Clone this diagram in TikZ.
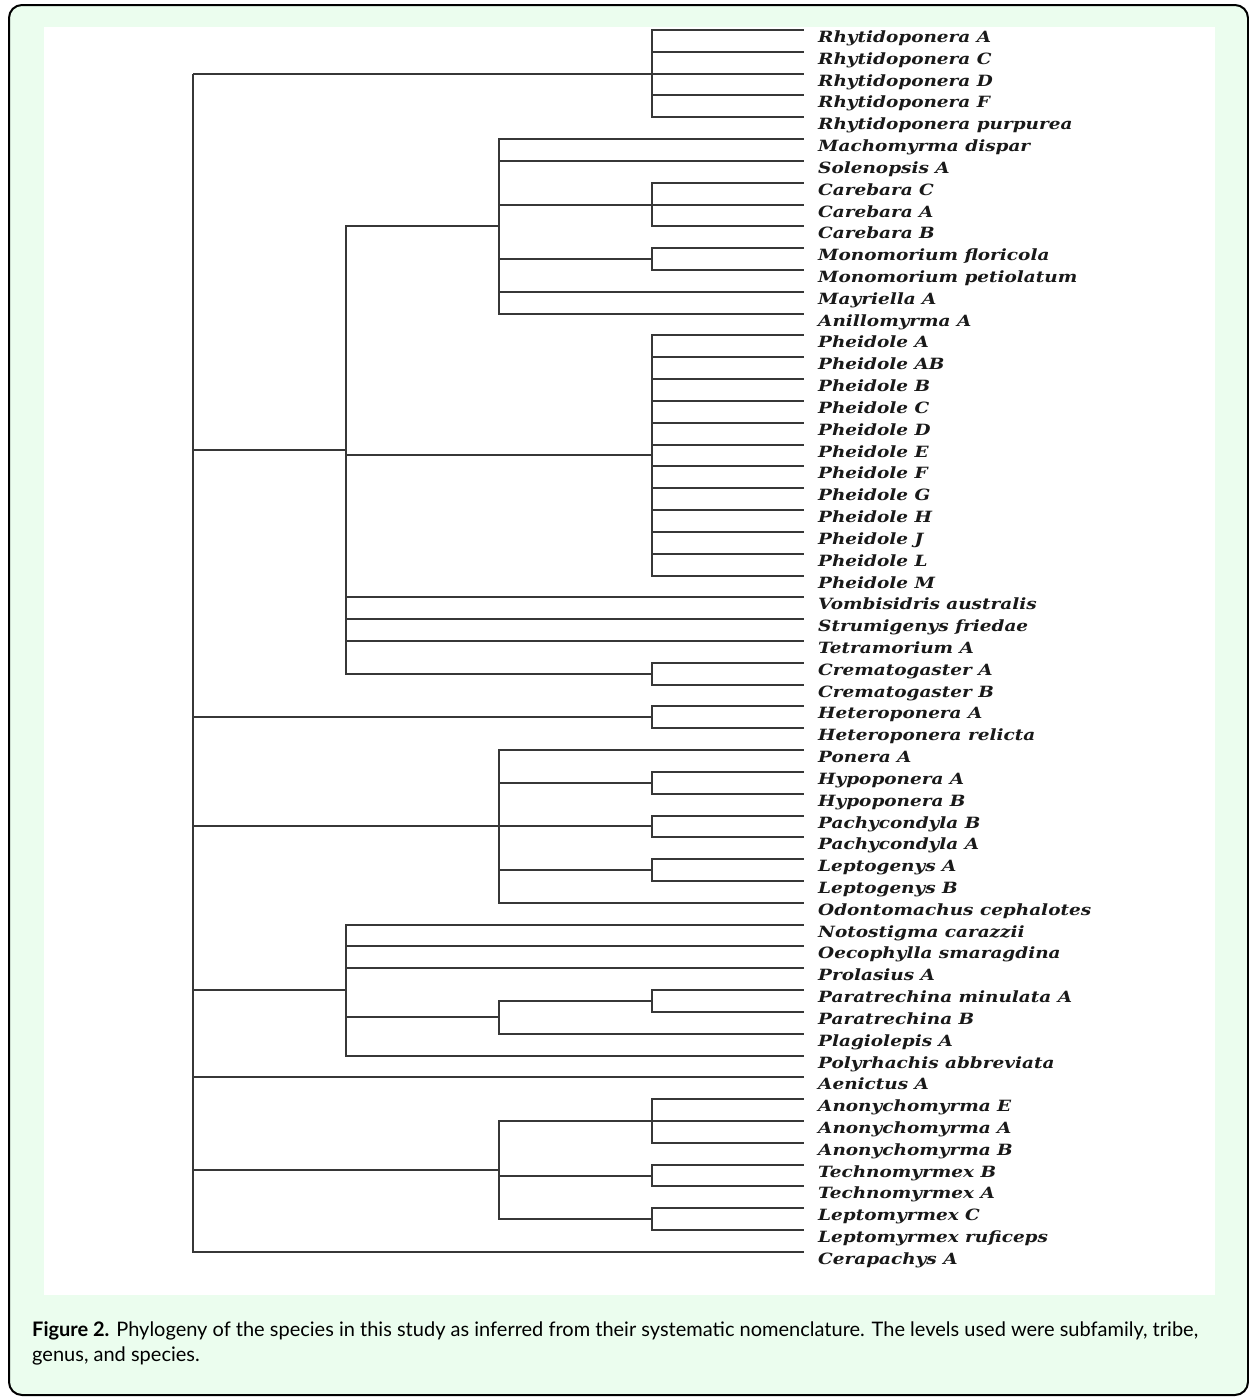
\documentclass[tikz,border=0pt]{standalone}
\usepackage{fontspec}
\usepackage{graphicx}
\newfontfamily\capfont{Lato}
\newfontfamily\labfont[FakeStretch=1.19]{DejaVu Serif}
\definecolor{bgreen}{RGB}{235,253,238}
\definecolor{branchgray}{RGB}{55,55,55}
\newcommand{\Yv}[1]{30+(#1-1)*21.82}
\newcommand{\lab}[1]{\labfont\fontsize{15.5}{15.5}\selectfont\bfseries\itshape #1}
\begin{document}
\begin{tikzpicture}[x=1pt,y=-1pt,
  branch/.style={line width=2pt, draw=branchgray},
  leaf/.style={anchor=base west, inner sep=0pt, text=black!90},
  capt/.style={anchor=base west, inner sep=0pt, text=black, font=\capfont\fontsize{20}{24}\selectfont}]
\useasboundingbox (0,0) rectangle (1249,1398);
\draw[line width=2pt, fill=bgreen, rounded corners=13pt] (9,5) rectangle (1248,1395);
\fill[white] (44,27) rectangle (1215,1295);
% leaves
\foreach \nm [count=\i] in {Rhytidoponera A, Rhytidoponera C, Rhytidoponera D, Rhytidoponera F, Rhytidoponera purpurea, Machomyrma dispar, Solenopsis A, Carebara C, Carebara A, Carebara B, Monomorium floricola, Monomorium petiolatum, Mayriella A, Anillomyrma A, Pheidole A, Pheidole AB, Pheidole B, Pheidole C, Pheidole D, Pheidole E, Pheidole F, Pheidole G, Pheidole H, Pheidole J, Pheidole L, Pheidole M, Vombisidris australis, Strumigenys friedae, Tetramorium A, Crematogaster A, Crematogaster B, Heteroponera A, Heteroponera relicta, Ponera A, Hypoponera A, Hypoponera B, Pachycondyla B, Pachycondyla A, Leptogenys A, Leptogenys B, Odontomachus cephalotes, Notostigma carazzii, Oecophylla smaragdina, Prolasius A, Paratrechina minulata A, Paratrechina B, Plagiolepis A, Polyrhachis abbreviata, Aenictus A, Anonychomyrma E, Anonychomyrma A, Anonychomyrma B, Technomyrmex B, Technomyrmex A, Leptomyrmex C, Leptomyrmex ruficeps, Cerapachys A} {
  \coordinate (t\i) at (804, {\Yv{\i}});
  \node[leaf] (n\i) at (818, {\Yv{\i}+12.5}) {\lab{\nm}};
}
% internal nodes
\coordinate (root) at (193, {\Yv{3}});
\coordinate (rhy) at (652, {\Yv{3}});
\coordinate (myr) at (346, {\Yv{20.25}});
\coordinate (sol) at (499, {\Yv{10}});
\coordinate (car) at (652, {\Yv{9}});
\coordinate (mon) at (652, {\Yv{11.5}});
\coordinate (phe) at (652, {\Yv{20.5}});
\coordinate (cre) at (652, {\Yv{30.5}});
\coordinate (het) at (652, {\Yv{32.5}});
\coordinate (pon) at (499, {\Yv{37.5}});
\coordinate (hyp) at (652, {\Yv{35.5}});
\coordinate (pac) at (652, {\Yv{37.5}});
\coordinate (lep) at (652, {\Yv{39.5}});
\coordinate (frm) at (346, {\Yv{45}});
\coordinate (ptr) at (499, {\Yv{46.25}});
\coordinate (par) at (652, {\Yv{45.5}});
\coordinate (dol) at (499, {\Yv{53.25}});
\coordinate (ano) at (652, {\Yv{51}});
\coordinate (tec) at (652, {\Yv{53.5}});
\coordinate (lpm) at (652, {\Yv{55.5}});
% connectors
\foreach \c in {rhy,myr,het,pon,frm,t49,dol,t57} \draw[branch] (root) |- (\c);
\foreach \c in {t1,t2,t3,t4,t5} \draw[branch] (rhy) |- (\c);
\foreach \c in {sol,phe,t27,t28,t29,cre} \draw[branch] (myr) |- (\c);
\foreach \c in {t6,t7,car,mon,t13,t14} \draw[branch] (sol) |- (\c);
\foreach \c in {t8,t9,t10} \draw[branch] (car) |- (\c);
\foreach \c in {t11,t12} \draw[branch] (mon) |- (\c);
\foreach \c in {15,...,26} \draw[branch] (phe) |- (t\c);
\foreach \c in {t30,t31} \draw[branch] (cre) |- (\c);
\foreach \c in {t32,t33} \draw[branch] (het) |- (\c);
\foreach \c in {t34,hyp,pac,lep,t41} \draw[branch] (pon) |- (\c);
\foreach \c in {t35,t36} \draw[branch] (hyp) |- (\c);
\foreach \c in {t37,t38} \draw[branch] (pac) |- (\c);
\foreach \c in {t39,t40} \draw[branch] (lep) |- (\c);
\foreach \c in {t42,t43,t44,ptr,t48} \draw[branch] (frm) |- (\c);
\foreach \c in {par,t47} \draw[branch] (ptr) |- (\c);
\foreach \c in {t45,t46} \draw[branch] (par) |- (\c);
\foreach \c in {ano,tec,lpm} \draw[branch] (dol) |- (\c);
\foreach \c in {t50,t51,t52} \draw[branch] (ano) |- (\c);
\foreach \c in {t53,t54} \draw[branch] (tec) |- (\c);
\foreach \c in {t55,t56} \draw[branch] (lpm) |- (\c);
% caption
\node[capt] (cap1) at (32,1336) {{\bfseries Figure 2.} Phylogeny of the species in this study as inferred from their systematic nomenclature. The levels used were subfamily, tribe,};
\node[capt] (cap2) at (32,1361) {genus, and species.};
\end{tikzpicture}
\end{document}
